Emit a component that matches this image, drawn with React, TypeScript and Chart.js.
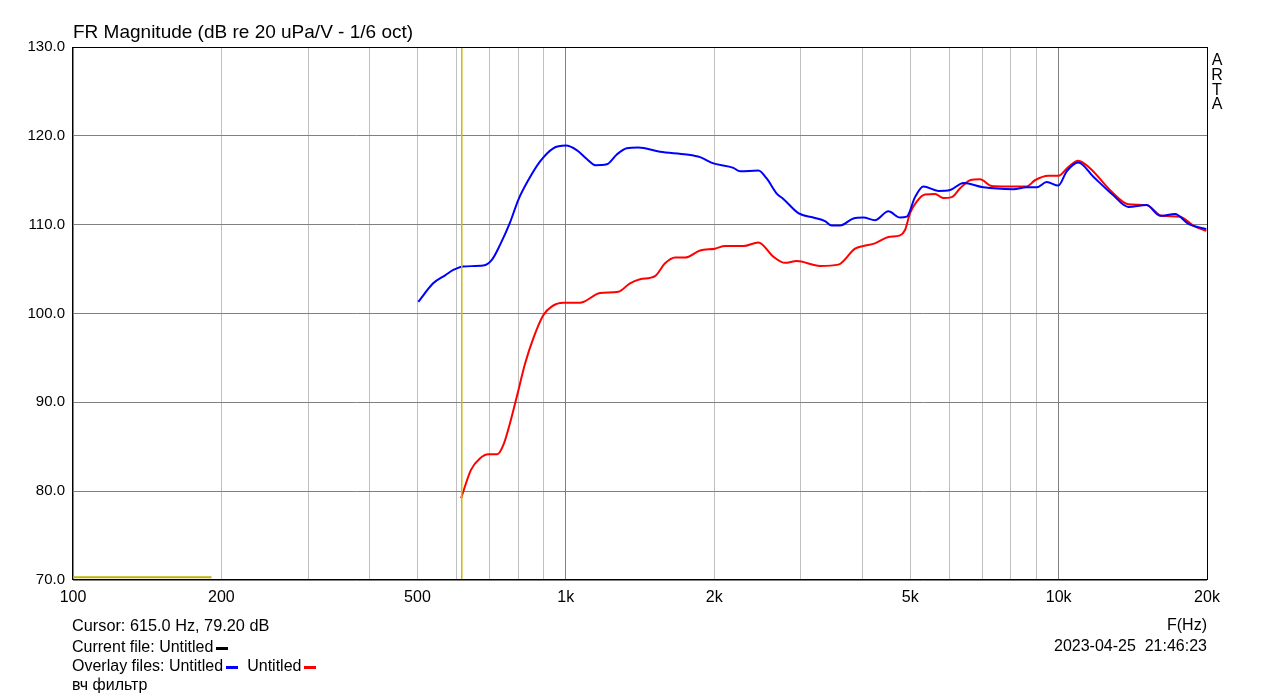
import React, { useEffect, useRef } from "react";
import { Chart, registerables } from "chart.js";

Chart.register(...registerables);

// ---- data ----
const blueFreq = [502, 538, 569, 591, 619, 680, 707, 735, 770, 801, 839, 886, 943, 1000, 1052, 1103, 1147, 1211, 1269, 1329, 1403, 1553, 1759, 1873, 1993, 2188, 2257, 2459, 2556, 2679, 2763, 2964, 3178, 3357, 3463, 3601, 3833, 4016, 4240, 4513, 4767, 4918, 5112, 5315, 5702, 6022, 6409, 7037, 8094, 8612, 9027, 9458, 9986, 10382, 10965, 11760, 12912, 13848, 15086, 16055, 17227, 18335, 19937];
const blueDb = [101.3, 103.4, 104.3, 104.9, 105.3, 105.4, 106.0, 107.7, 110.2, 112.8, 115.0, 117.1, 118.6, 118.9, 118.4, 117.4, 116.7, 116.8, 117.9, 118.6, 118.7, 118.2, 117.9, 117.6, 116.9, 116.4, 116.0, 116.1, 115.2, 113.5, 112.9, 111.3, 110.8, 110.4, 109.9, 109.9, 110.7, 110.8, 110.5, 111.5, 110.8, 110.9, 113.1, 114.3, 113.8, 113.9, 114.7, 114.2, 114.0, 114.2, 114.2, 114.8, 114.4, 116.0, 117.0, 115.4, 113.3, 112.0, 112.2, 111.0, 111.2, 110.1, 109.5];

const redFreq = [613, 642, 670, 696, 726, 747, 770, 795, 827, 859, 900, 937, 989, 1052, 1085, 1173, 1278, 1350, 1415, 1517, 1590, 1666, 1745, 1873, 2008, 2104, 2293, 2459, 2637, 2785, 2941, 3280, 3573, 3863, 4016, 4240, 4513, 4767, 4878, 4995, 5152, 5356, 5613, 5834, 6069, 6310, 6612, 6927, 7316, 7848, 8612, 8954, 9529, 9986, 10464, 10965, 11578, 12814, 13848, 15086, 16186, 17633, 18761, 19937];
const redDb = [79.2, 82.4, 83.7, 84.15, 84.15, 85.2, 87.6, 90.6, 94.4, 97.2, 99.8, 100.8, 101.2, 101.2, 101.3, 102.3, 102.45, 103.4, 103.85, 104.2, 105.65, 106.3, 106.3, 107.1, 107.3, 107.6, 107.6, 108.0, 106.4, 105.7, 105.9, 105.35, 105.5, 107.3, 107.6, 107.9, 108.6, 108.8, 109.4, 111.3, 112.6, 113.4, 113.45, 113.0, 113.1, 114.1, 115.0, 115.1, 114.35, 114.3, 114.3, 115.0, 115.5, 115.5, 116.5, 117.2, 116.35, 113.7, 112.3, 112.2, 111.0, 110.9, 109.9, 109.3];

const currentFreq = [100, 191];
const currentDb = [70.3, 70.3];

const cursorFreq = 615;

const xGridValues = [100, 200, 300, 400, 500, 600, 700, 800, 900, 1000, 2000, 3000, 4000, 5000, 6000, 7000, 8000, 9000, 10000, 20000];
const xMajorValues = [100, 1000, 10000];
const xTickLabels: Record<number, string> = { 100: "100", 200: "200", 500: "500", 1000: "1k", 2000: "2k", 5000: "5k", 10000: "10k", 20000: "20k" };
const yTickValues = [70, 80, 90, 100, 110, 120, 130];

const FONT = "'Liberation Sans', Arial, sans-serif";

const toPoints = (xs: number[], ys: number[]) => xs.map((x, i) => ({ x, y: ys[i] }));

export default function App() {
  const canvasRef = useRef<HTMLCanvasElement | null>(null);

  useEffect(() => {
    if (!canvasRef.current) return;
    const framePlugin = {
      id: "frame",
      afterDraw(chart: any) {
        const { ctx, chartArea: a } = chart;
        ctx.save();
        ctx.strokeStyle = "#000";
        ctx.lineWidth = 1;
        ctx.strokeRect(Math.round(a.left) - 0.5, Math.round(a.top) + 0.5, Math.round(a.right - a.left) + 1, Math.round(a.bottom - a.top) - 1);
        ctx.restore();
      },
    };

    const chart = new Chart(canvasRef.current, {
      type: "line",
      data: {
        datasets: [
          {
            label: "cursor",
            data: [{ x: cursorFreq, y: 70 }, { x: cursorFreq, y: 130 }],
            borderColor: "#c8bc00",
            borderWidth: 1.5,
            pointRadius: 0,
            tension: 0,
          },
          {
            label: "current",
            data: toPoints(currentFreq, currentDb),
            borderColor: "#bdb500",
            borderWidth: 2,
            pointRadius: 0,
            tension: 0,
          },
          {
            label: "overlay1",
            data: toPoints(blueFreq, blueDb),
            borderColor: "#0000ff",
            borderWidth: 2,
            pointRadius: 0,
            cubicInterpolationMode: "monotone",
          },
          {
            label: "overlay2",
            data: toPoints(redFreq, redDb),
            borderColor: "#ff0000",
            borderWidth: 2,
            pointRadius: 0,
            cubicInterpolationMode: "monotone",
          },
        ],
      },
      options: {
        responsive: false,
        animation: false,
        events: [],
        layout: { padding: { left: 0, top: 47, right: 72, bottom: 0 } },
        plugins: { legend: { display: false }, tooltip: { enabled: false }, title: { display: false } },
        scales: {
          x: {
            type: "logarithmic",
            min: 100,
            max: 20000,
            afterBuildTicks: (s: any) => {
              s.ticks = xGridValues.map((v) => ({ value: v }));
            },
            afterFit: (s: any) => {
              s.height = 119;
            },
            ticks: {
              autoSkip: false,
              maxRotation: 0,
              minRotation: 0,
              padding: 8,
              color: "#000",
              font: { family: FONT, size: 16 },
              callback: (v: any) => xTickLabels[Number(v)] ?? "",
            },
            grid: {
              drawTicks: false,
              lineWidth: 1,
              color: (c: any) => (xMajorValues.includes(c.tick?.value) ? "#808080" : "#c0c0c0"),
            },
            border: { display: false },
          },
          y: {
            type: "linear",
            min: 70,
            max: 130,
            afterBuildTicks: (s: any) => {
              s.ticks = yTickValues.map((v) => ({ value: v }));
            },
            afterFit: (s: any) => {
              s.width = 73;
            },
            ticks: {
              padding: 8,
              color: "#000",
              font: { family: FONT, size: 15 },
              callback: (v: any) => Number(v).toFixed(1),
            },
            grid: { drawTicks: false, color: "#808080", lineWidth: 1 },
            border: { display: false },
          },
        },
      } as any,
      plugins: [framePlugin],
    });
    return () => chart.destroy();
  }, []);

  const txt: React.CSSProperties = { position: "absolute", fontFamily: FONT, fontSize: 16, color: "#000", whiteSpace: "nowrap", lineHeight: "normal" };
  const dash = (color: string): React.CSSProperties => ({
    display: "inline-block",
    width: 12,
    height: 3,
    background: color,
    marginLeft: 3,
    marginBottom: 2,
    verticalAlign: "baseline",
  });

  return (
    <div style={{ position: "fixed", left: 0, top: 0, width: 1279, height: 699, background: "#fff" }}>
      <canvas ref={canvasRef} width={1279} height={699} style={{ position: "absolute", left: 0, top: 0, width: 1279, height: 699 }} />
      <div style={{ ...txt, left: 73, top: 21, fontSize: 19 }}>FR Magnitude (dB re 20 uPa/V - 1/6 oct)</div>
      <div style={{ ...txt, left: 1211, top: 53, lineHeight: "14.8px", textAlign: "center", width: 12 }}>
        A<br />R<br />T<br />A
      </div>
      <div style={{ ...txt, left: 72, top: 615.5, fontSize: 16.3 }}>Cursor: 615.0 Hz, 79.20 dB</div>
      <div style={{ ...txt, left: 72, top: 637.5 }}>
        Current file: Untitled<span style={dash("#000")} />
      </div>
      <div style={{ ...txt, left: 72, top: 657 }}>
        Overlay files: Untitled<span style={dash("#0000ff")} />
        <span style={{ marginLeft: 9 }}>Untitled</span>
        <span style={dash("#ff0000")} />
      </div>
      <div style={{ ...txt, left: 72, top: 675.5 }}>вч фильтр</div>
      <div style={{ ...txt, right: 1279 - 1207, top: 615.5 }}>F(Hz)</div>
      <div style={{ ...txt, right: 1279 - 1207, top: 637 }}>2023-04-25&nbsp;&nbsp;21:46:23</div>
    </div>
  );
}
